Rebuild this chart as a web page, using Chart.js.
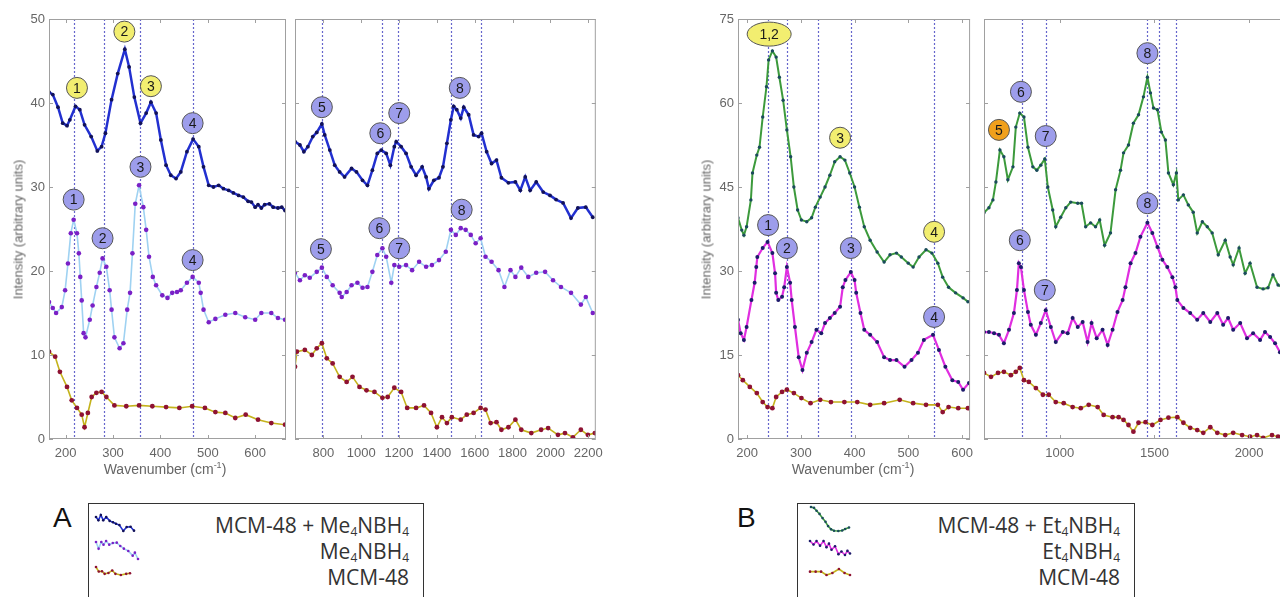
<!DOCTYPE html>
<html>
<head>
<meta charset="utf-8">
<script src="https://cdn.jsdelivr.net/npm/chart.js@4.4.1/dist/chart.umd.min.js"></script>
<style>
  body { margin: 0; width: 1280px; height: 597px; overflow: hidden; background: #fff; position: relative;
         font-family: "Liberation Sans", Arial, sans-serif; }
  canvas { position: absolute; }
  .ytitle { position: absolute; width: 200px; text-align: center; color: #666; font-size: 13px;
            white-space: nowrap; transform: rotate(-90deg); }
  .xtitle { position: absolute; width: 200px; text-align: center; color: #666; font-size: 14px; white-space: nowrap; }
  .xtitle sup { font-size: 9px; }
  .panel { position: absolute; font-size: 28px; color: #111; line-height: 1; }
  .legend { position: absolute; top: 503px; height: 120px; border: 1px solid #333; background: #fff;
            font-family: "Open Sans", sans-serif; font-size: 21px; color: #333; }
  .legend .row { position: absolute; right: 14px; line-height: 26px; white-space: nowrap; }
  .legend sub { font-size: 12px; vertical-align: -3px; }
</style>
</head>
<body>
<canvas id="aLeft" width="290" height="470" style="left:0;top:0"></canvas>
<canvas id="aRight" width="320" height="470" style="left:290px;top:0"></canvas>
<canvas id="bLeft" width="290" height="470" style="left:690px;top:0"></canvas>
<canvas id="bRight" width="320" height="470" style="left:980px;top:0"></canvas>

<div class="ytitle" style="left:-82px;top:222px">Intensity (arbitrary units)</div>
<div class="ytitle" style="left:606px;top:222px">Intensity (arbitrary units)</div>
<div class="xtitle" style="left:65px;top:460px">Wavenumber (cm<sup>-1</sup>)</div>
<div class="xtitle" style="left:753px;top:460px">Wavenumber (cm<sup>-1</sup>)</div>

<div class="panel" style="left:53px;top:504px">A</div>
<div class="panel" style="left:737px;top:504px">B</div>

<div class="legend" style="left:88px;width:334px">
  <div class="row" style="top:8px">MCM-48 + Me<sub>4</sub>NBH<sub>4</sub></div>
  <div class="row" style="top:34px">Me<sub>4</sub>NBH<sub>4</sub></div>
  <div class="row" style="top:60px">MCM-48</div>
</div>
<div class="legend" style="left:797px;width:336px">
  <div class="row" style="top:8px">MCM-48 + Et<sub>4</sub>NBH<sub>4</sub></div>
  <div class="row" style="top:34px">Et<sub>4</sub>NBH<sub>4</sub></div>
  <div class="row" style="top:60px">MCM-48</div>
</div>
<canvas id="lgA1" width="42" height="20" style="left:94px;top:513px"></canvas>
<canvas id="lgA2" width="46" height="22" style="left:94px;top:539px"></canvas>
<canvas id="lgA3" width="38" height="12" style="left:94px;top:565px"></canvas>
<canvas id="lgB1" width="42" height="28" style="left:809px;top:505px"></canvas>
<canvas id="lgB2" width="44" height="18" style="left:808px;top:539px"></canvas>
<canvas id="lgB3" width="44" height="10" style="left:808px;top:567px"></canvas>

<script>
// ---- panel A, left window (165-665 cm-1) ----
const aLeftBlueWn = [165,173,184,194,203,209,221,230,240,254,267,276,284,297,310,325,334,345,358,370,380,391,401,412,422,433,443,456,469,481,491,502,512,523,533,544,554,565,575,585,592,600,606,613,620,630,638,648,656,663];
const aLeftBlueI  = [41.3,41.0,39.5,37.6,37.3,38.0,39.6,39.2,37.4,36.0,34.3,34.8,36.4,40.4,43.5,46.4,44.3,40.7,37.6,38.8,40.1,38.8,35.6,32.6,31.4,31.0,31.8,34.2,35.7,34.8,32.4,30.2,30.0,30.2,29.8,29.6,29.3,29.0,28.8,28.3,28.2,27.6,27.9,27.5,27.9,28.0,27.6,27.5,27.6,27.2];
const aLeftPurpleWn = [165,173,180,192,199,205,211,217,224,228,231,234,238,242,251,257,265,272,278,286,293,297,303,314,322,330,336,341,347,355,364,370,376,384,391,404,415,425,435,443,456,468,481,485,491,502,516,537,558,579,600,613,634,648,663];
const aLeftPurpleI  = [16.3,15.6,15.0,15.7,17.7,20.9,24.5,26.1,24.5,22.1,19.3,16.5,12.6,12.1,14.2,15.9,18.1,19.8,21.5,20.5,17.7,15.4,12.1,10.8,11.4,15.4,17.4,22.1,28.0,30.2,27.6,24.9,21.7,19.3,18.3,17.1,16.8,17.4,17.5,17.7,18.6,19.3,18.6,17.4,15.4,13.9,14.3,14.8,15.0,14.5,14.2,15.0,15.0,14.4,14.2];
const aLeftRedWn = [165,178,188,203,213,224,234,240,247,255,265,276,286,303,328,355,383,412,440,467,494,516,537,558,580,606,634,663];
const aLeftRedI  = [10.4,9.8,8.0,6.2,4.6,3.7,2.9,1.4,3.1,5.0,5.5,5.6,5.0,4.0,3.9,4.0,3.9,3.8,3.7,3.9,3.7,3.2,3.1,2.5,2.9,2.3,1.9,1.7];

// ---- panel A, right window (650-2240 cm-1) ----
const aRightBlueWn = [650,676,697,718,744,765,792,807,834,860,886,912,949,975,1007,1033,1059,1085,1106,1132,1154,1175,1185,1211,1237,1264,1290,1322,1343,1358,1384,1411,1432,1453,1474,1489,1505,1526,1542,1568,1594,1621,1636,1663,1689,1715,1741,1778,1815,1841,1867,1893,1925,1962,1998,2030,2067,2109,2145,2187,2224];
const aRightBlueI  = [35.4,35.0,34.2,34.8,36.0,36.5,37.5,36.2,34.4,32.6,31.8,31.2,32.2,31.8,30.8,30.2,32.0,34.0,34.4,34.0,32.6,34.8,35.4,34.8,34.0,32.4,31.4,32.4,31.2,29.8,30.8,31.1,32.4,35.2,38.0,39.6,39.2,38.2,39.5,38.6,36.2,36.0,36.4,34.2,32.8,33.2,31.1,30.5,30.6,29.6,31.2,29.6,30.6,29.4,29.0,28.5,28.1,26.3,27.5,27.6,26.4];
const aRightPurpleWn = [650,676,702,728,765,792,818,849,886,897,923,949,980,1007,1033,1059,1085,1112,1132,1159,1175,1201,1237,1269,1306,1343,1374,1411,1447,1474,1500,1526,1552,1579,1605,1631,1657,1689,1726,1757,1789,1815,1846,1883,1925,1972,2014,2056,2109,2161,2187,2224];
const aRightPurpleI  = [19.8,18.9,19.5,19.2,19.9,20.4,19.3,18.3,17.4,16.9,17.5,18.3,18.6,18.0,18.1,19.9,21.9,22.7,21.7,18.6,20.7,20.5,20.7,20.1,21.1,20.5,20.7,21.3,22.3,24.9,24.3,25.1,24.9,24.3,23.3,23.9,21.7,21.1,20.1,18.1,20.1,19.3,20.4,19.3,19.8,19.9,18.9,18.1,17.4,16.0,16.9,15.0];
const aRightRedWn = [650,660,702,739,765,792,818,849,886,923,954,991,1028,1070,1112,1140,1175,1211,1243,1290,1332,1369,1400,1427,1453,1479,1526,1558,1594,1631,1657,1684,1715,1741,1778,1815,1846,1899,1951,1988,2040,2077,2119,2161,2198,2235];
const aRightRedI  = [8.6,10.4,10.6,10.0,10.8,11.4,9.6,9.0,7.4,6.8,7.4,6.2,5.8,5.6,4.9,5.0,6.1,5.6,3.7,3.7,4.0,3.1,1.4,2.6,1.9,2.6,2.3,2.9,3.1,3.7,3.5,1.9,2.0,1.1,1.4,2.3,1.1,0.7,1.1,1.3,0.5,0.7,0.2,1.1,0.5,0.7];

// ---- panel B, left window (183-615 cm-1) ----
const bLeftTealWn = [183,190,194,199,207,210,218,223,229,236,240,247,254,260,267,274,281,287,294,301,311,320,327,336,345,354,363,373,382,391,400,409,418,429,442,455,466,478,487,500,509,520,533,544,555,564,575,588,602,611];
const bLeftTealI  = [39.5,37.3,36.4,37.9,42.7,47.5,50.7,52.1,57.5,62.9,67.7,69.3,68.2,64.6,60.5,55.2,50.4,45.0,40.9,39.1,38.8,39.5,41.4,43.2,45.0,47.1,49.5,50.4,49.8,47.5,45.0,41.4,37.9,35.5,33.4,31.6,32.9,33.2,32.5,31.4,30.7,32.5,33.8,33.2,31.4,28.9,27.1,26.1,25.2,24.5];
const bLeftNavyWn = [183,188,194,199,208,214,217,219,229,238,247,252,254,258,265,269,274,280,283,289,296,303,311,320,329,338,345,354,363,373,378,383,393,400,403,411,418,429,442,455,466,478,493,506,518,529,546,557,569,582,593,602,613];
const bLeftNavyI  = [21.3,18.9,17.7,20.0,24.8,27.9,30.7,32.5,34.1,35.2,33.2,29.6,26.1,24.8,25.4,27.1,30.7,27.9,24.8,20.0,14.6,12.3,15.4,17.3,19.5,18.9,20.7,21.6,22.5,23.6,27.1,28.4,29.8,28.4,26.1,22.5,19.5,18.6,17.3,14.6,14.1,14.1,12.9,14.1,15.4,17.7,18.6,15.9,12.9,10.5,10.2,8.8,10.0];
const bLeftRedWn = [183,192,205,218,229,238,247,254,265,274,287,301,318,336,356,381,405,429,455,484,509,533,555,564,575,593,611];
const bLeftRedI  = [11.4,10.5,9.3,8.2,6.6,5.7,5.5,7.5,8.4,8.8,8.2,7.3,6.4,7.0,6.6,6.6,6.6,6.1,6.4,7.0,6.4,6.1,6.1,4.8,5.7,5.5,5.5];

// ---- panel B, right window (600-2216 cm-1, cut by the page edge) ----
const bRightTealWn = [600,626,647,663,684,705,726,753,768,789,811,832,858,879,900,921,937,963,979,1005,1032,1058,1095,1115,1137,1163,1189,1211,1237,1268,1295,1321,1337,1363,1389,1416,1442,1463,1479,1495,1516,1537,1558,1574,1600,1616,1626,1653,1679,1705,1726,1753,1779,1805,1837,1874,1900,1916,1947,1979,2005,2042,2074,2100,2126,2153,2180];
const bRightTealI  = [40.4,41.3,42.7,45.9,51.6,50.4,46.3,48.6,55.7,58.2,57.5,52.1,48.6,48.0,48.9,50.0,45.0,40.9,37.9,39.6,41.3,42.3,42.1,42.1,37.9,38.6,37.9,39.1,34.6,36.8,44.5,48.0,51.1,52.5,56.4,57.9,61.1,64.6,61.8,59.1,58.8,54.8,53.4,47.5,45.4,47.5,42.7,43.6,41.8,40.5,36.8,38.8,37.9,36.8,32.9,35.5,32.5,31.1,34.1,29.6,31.4,27.1,26.8,27.0,29.3,27.5,27.0];
const bRightNavyWn = [600,626,653,679,705,732,758,774,784,795,811,832,847,874,900,926,953,979,1016,1042,1068,1095,1121,1147,1168,1195,1226,1253,1279,1305,1332,1347,1374,1400,1426,1463,1489,1516,1542,1568,1595,1611,1621,1653,1689,1726,1758,1795,1832,1863,1889,1916,1953,1989,2021,2058,2084,2111,2137,2163,2190];
const bRightNavyI  = [19.1,19.1,18.9,18.6,17.1,19.5,22.5,26.6,31.4,30.7,26.6,22.7,20.4,18.6,20.7,23.0,20.0,17.3,19.1,18.9,21.6,20.0,20.9,17.3,20.7,18.0,19.5,16.8,19.5,22.7,24.8,27.1,31.4,33.2,36.1,38.6,36.8,34.3,32.0,30.7,28.9,27.1,24.8,23.4,22.5,21.3,22.5,20.9,22.5,20.4,21.6,19.5,20.7,18.0,18.9,17.7,19.1,18.2,17.1,15.5,15.0];
const bRightRedWn = [600,637,674,705,742,768,789,811,837,874,911,942,979,1021,1068,1111,1153,1200,1232,1279,1311,1337,1363,1389,1416,1453,1489,1532,1574,1621,1653,1689,1726,1758,1795,1832,1874,1916,1963,2005,2042,2074,2121,2153,2190];
const bRightRedI  = [11.8,11.1,11.8,12.0,11.4,12.0,12.7,10.5,10.2,9.1,7.9,7.9,6.6,6.4,5.7,5.5,6.1,5.7,4.3,3.9,3.9,3.4,2.5,1.3,2.9,3.0,2.5,3.4,3.8,3.9,2.9,2.0,1.6,1.1,2.1,1.1,0.7,1.1,0.7,0.4,0.7,0.2,0.7,0.4,0.6];

// tick labels
const aLeftXTicks = [200,300,400,500,600];
const aRightXTicks = [800,1000,1200,1400,1600,1800,2000,2200];
const aYTicks = [0,10,20,30,40,50];
const bLeftXTicks = [200,300,400,500,600];
const bRightXTicks = [1000,1500,2000];
const bYTicks = [0,15,30,45,60,75];

// dotted band positions
const aLeftBands = [217,280,358,468];
const aRightBands = [792,1108,1197,1476,1632];
const bLeftBands = [238,274,331,393,548];
const bRightBands = [800,926,1463,1526,1616];

// numbered peak markers (y = yellow, b = blue, o = orange)
const aLeftMarkWn = [224,324,380,468,217,278,358,468];
const aLeftMarkI = [41.8,48.5,42.0,37.6,28.5,23.9,32.4,21.3];
const aLeftMarkText = ['1','2','3','4','1','2','3','4'];
const aLeftMarkKind = ['y','y','y','b','b','b','b','b'];
const aRightMarkWn = [792,1101,1201,1521,787,1096,1201,1531];
const aRightMarkI = [39.5,36.4,38.8,41.8,22.6,25.1,22.7,27.3];
const aRightMarkText = ['5','6','7','8','5','6','7','8'];
const aRightMarkKind = ['b','b','b','b','b','b','b','b'];
const bLeftMarkWn = [241,373,548,239,274,393,548];
const bLeftMarkI = [72.3,53.8,37.0,38.2,34.1,34.1,21.8];
const bLeftMarkText = ['1,2','3','4','1','2','3','4'];
const bLeftMarkKind = ['y','y','y','b','b','b','b'];
const bRightMarkWn = [679,795,926,1463,789,921,1463];
const bRightMarkI = [55.2,62.0,54.1,68.9,35.5,26.6,42.1];
const bRightMarkText = ['5','6','7','8','6','7','8'];
const bRightMarkKind = ['o','b','b','b','b','b','b'];

const markFill = { y: '#f2ee70', b: '#9d9deb', o: '#f0a01c' };
const FONT = '"Liberation Sans", Arial, sans-serif';

// styles of the three traces in each panel
const styleBlue   = { line: '#2230d0', point: '#121258', r: 1.9, w: 2.5 };
const stylePurple = { line: '#9fd2f2', point: '#7a20c6', r: 2.3, w: 1.6 };
const styleRed    = { line: '#c4b31c', point: '#8e1232', r: 2.4, w: 1.6 };
const styleTeal   = { line: '#3c9a3c', point: '#1b4b5c', r: 1.7, w: 2.0 };
const styleNavy   = { line: '#e02ee0', point: '#1c1c6a', r: 2.0, w: 2.2 };

function series(wn, vals, st) {
  return {
    data: wn.map((x, i) => ({ x: x, y: vals[i] })),
    borderColor: st.line,
    borderWidth: st.w,
    pointRadius: st.r,
    pointBorderWidth: 0,
    pointBackgroundColor: st.point,
    tension: 0
  };
}

// frame, inward ticks, dotted bands and numbered circles
const decorPlugin = {
  id: 'decor',
  beforeDatasetsDraw(chart, args, opts) {
    const { ctx, chartArea: a, scales: { x } } = chart;
    ctx.save();
    ctx.strokeStyle = '#6666cc';
    ctx.lineWidth = 1.2;
    ctx.setLineDash([2, 2]);
    opts.bands.forEach(v => {
      const px = Math.round(x.getPixelForValue(v)) + 0.5;
      ctx.beginPath();
      ctx.moveTo(px, a.top);
      ctx.lineTo(px, a.bottom);
      ctx.stroke();
    });
    ctx.restore();
  },
  afterDatasetsDraw(chart, args, opts) {
    const { ctx, chartArea: a, scales: { x, y } } = chart;
    ctx.save();
    ctx.strokeStyle = '#a0a0a0';
    ctx.lineWidth = 1;
    ctx.strokeRect(a.left + 0.5, a.top + 0.5, a.right - a.left - 1, a.bottom - a.top - 1);
    ctx.beginPath();
    opts.xTicks.forEach(v => {
      const px = Math.round(x.getPixelForValue(v)) + 0.5;
      ctx.moveTo(px, a.bottom); ctx.lineTo(px, a.bottom - 4);
      ctx.moveTo(px, a.top); ctx.lineTo(px, a.top + 4);
    });
    opts.yTicks.forEach(v => {
      const py = Math.round(y.getPixelForValue(v)) + 0.5;
      ctx.moveTo(a.left, py); ctx.lineTo(a.left + 4, py);
      ctx.moveTo(a.right, py); ctx.lineTo(a.right - 4, py);
    });
    ctx.stroke();

    ctx.font = '14px ' + FONT;
    ctx.textAlign = 'center';
    ctx.textBaseline = 'middle';
    opts.markWn.forEach((wn, i) => {
      const cx = x.getPixelForValue(wn);
      const cy = y.getPixelForValue(opts.markI[i]);
      const txt = opts.markText[i];
      ctx.beginPath();
      if (txt.length > 1) ctx.ellipse(cx, cy, 22, 12, 0, 0, Math.PI * 2);
      else ctx.arc(cx, cy, 10.5, 0, Math.PI * 2);
      ctx.fillStyle = markFill[opts.markKind[i]];
      ctx.fill();
      ctx.strokeStyle = '#555';
      ctx.lineWidth = 1;
      ctx.stroke();
      ctx.fillStyle = '#1a1a1a';
      ctx.fillText(txt, cx, cy + 1);
    });
    ctx.restore();
  }
};

function makePlot(id, o) {
  return new Chart(document.getElementById(id), {
    type: 'line',
    data: { datasets: o.datasets },
    plugins: [decorPlugin],
    options: {
      responsive: false,
      animation: false,
      layout: { padding: o.padding },
      scales: {
        x: {
          type: 'linear', min: o.xMin, max: o.xMax,
          afterBuildTicks: s => { s.ticks = o.xTicks.map(v => ({ value: v })); },
          afterFit: s => { s.height = 31; },
          grid: { display: false, drawTicks: false },
          border: { display: false },
          ticks: { color: '#666', font: { size: 13, family: FONT }, padding: 7, maxRotation: 0, autoSkip: false,
                   callback: v => String(v) }
        },
        y: {
          type: 'linear', min: 0, max: o.yMax, display: o.yWidth > 0,
          afterBuildTicks: s => { s.ticks = o.yTicks.map(v => ({ value: v })); },
          afterFit: s => { s.width = o.yWidth; },
          grid: { display: false, drawTicks: false },
          border: { display: false },
          ticks: { color: '#666', font: { size: 13, family: FONT }, padding: 4, callback: v => String(v) }
        }
      },
      plugins: {
        legend: { display: false },
        tooltip: { enabled: false },
        decor: { bands: o.bands, xTicks: o.xTicks, yTicks: o.yTicks,
                 markWn: o.markWn, markI: o.markI, markText: o.markText, markKind: o.markKind }
      }
    }
  });
}

makePlot('aLeft', {
  xMin: 165, xMax: 665, yMax: 50, xTicks: aLeftXTicks, yTicks: aYTicks, yWidth: 49,
  padding: { top: 19, right: 2, left: 0, bottom: 0 },
  datasets: [series(aLeftRedWn, aLeftRedI, styleRed), series(aLeftPurpleWn, aLeftPurpleI, stylePurple),
             series(aLeftBlueWn, aLeftBlueI, styleBlue)],
  bands: aLeftBands, markWn: aLeftMarkWn, markI: aLeftMarkI, markText: aLeftMarkText, markKind: aLeftMarkKind
});
makePlot('aRight', {
  xMin: 650, xMax: 2240, yMax: 50, xTicks: aRightXTicks, yTicks: aYTicks, yWidth: 0,
  padding: { top: 19, right: 12, left: 5, bottom: 0 },
  datasets: [series(aRightRedWn, aRightRedI, styleRed), series(aRightPurpleWn, aRightPurpleI, stylePurple),
             series(aRightBlueWn, aRightBlueI, styleBlue)],
  bands: aRightBands, markWn: aRightMarkWn, markI: aRightMarkI, markText: aRightMarkText, markKind: aRightMarkKind
});
makePlot('bLeft', {
  xMin: 183, xMax: 615, yMax: 75, xTicks: bLeftXTicks, yTicks: bYTicks, yWidth: 48,
  padding: { top: 19, right: 4, left: 0, bottom: 0 },
  datasets: [series(bLeftRedWn, bLeftRedI, styleRed), series(bLeftNavyWn, bLeftNavyI, styleNavy),
             series(bLeftTealWn, bLeftTealI, styleTeal)],
  bands: bLeftBands, markWn: bLeftMarkWn, markI: bLeftMarkI, markText: bLeftMarkText, markKind: bLeftMarkKind
});
makePlot('bRight', {
  xMin: 600, xMax: 2216, yMax: 75, xTicks: bRightXTicks, yTicks: bYTicks, yWidth: 0,
  padding: { top: 19, right: 10, left: 3, bottom: 0 },
  datasets: [series(bRightRedWn, bRightRedI, styleRed), series(bRightNavyWn, bRightNavyI, styleNavy),
             series(bRightTealWn, bRightTealI, styleTeal)],
  bands: bRightBands, markWn: bRightMarkWn, markI: bRightMarkI, markText: bRightMarkText, markKind: bRightMarkKind
});

// little squiggles in the legends, cut from the traces themselves
function legendSample(id, wn, vals, st) {
  const cv = document.getElementById(id);
  const ctx = cv.getContext('2d');
  const x0 = Math.min(...wn), x1 = Math.max(...wn);
  const y0 = Math.min(...vals), y1 = Math.max(...vals);
  const pts = wn.map((w, i) => [2 + (w - x0) / (x1 - x0) * (cv.width - 4),
                                2 + (y1 - vals[i]) / ((y1 - y0) || 1) * (cv.height - 4)]);
  ctx.strokeStyle = st.line;
  ctx.lineWidth = 1.6;
  ctx.beginPath();
  pts.forEach((p, i) => i ? ctx.lineTo(p[0], p[1]) : ctx.moveTo(p[0], p[1]));
  ctx.stroke();
  ctx.fillStyle = st.point;
  pts.forEach(p => { ctx.beginPath(); ctx.arc(p[0], p[1], 1.3, 0, Math.PI * 2); ctx.fill(); });
}
legendSample('lgA1', aRightBlueWn.slice(48, 61), aRightBlueI.slice(48, 61), styleBlue);
legendSample('lgA2', aRightPurpleWn.slice(38, 52), aRightPurpleI.slice(38, 52), stylePurple);
legendSample('lgA3', aRightRedWn.slice(30, 40), aRightRedI.slice(30, 40), styleRed);
legendSample('lgB1', bLeftTealWn.slice(11, 24), bLeftTealI.slice(11, 24), styleTeal);
legendSample('lgB2', bRightNavyWn.slice(44, 58), bRightNavyI.slice(44, 58), styleNavy);
legendSample('lgB3', bLeftRedWn.slice(14, 22), bLeftRedI.slice(14, 22), styleRed);
</script>
</body>
</html>
